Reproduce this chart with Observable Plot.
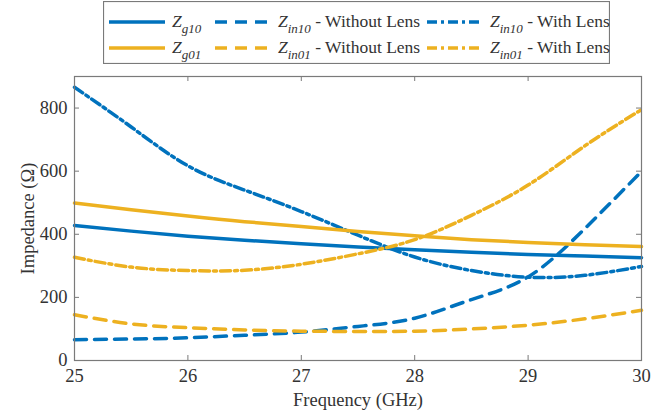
<!DOCTYPE html>
<html>
<head>
<meta charset="utf-8">
<script src="https://cdn.jsdelivr.net/npm/d3@7"></script>
<script src="https://cdn.jsdelivr.net/npm/@observablehq/plot@0.6"></script>
<style>
  html, body { margin: 0; padding: 0; background: #fff; }
  #wrap { position: relative; width: 670px; height: 416px; }
  #wrap, #wrap svg, #wrap text { font-family: "Liberation Serif", "Times New Roman", Tinos, "DejaVu Serif", serif !important; }
  #legend { position: absolute; left: 103px; top: 1px; }
</style>
</head>
<body>
<div id="wrap"></div>
<script>
// Frequency sweep (GHz)
const freq = [25, 25.5, 26, 26.5, 27, 27.5, 28, 28.5, 29, 29.5, 30];

// Impedance series (Ω)
const zg10 = [428, 410, 394, 381, 370, 360, 351, 343, 336, 331, 326];
const zg01 = [499, 478, 458, 440, 425, 409, 395, 383, 374, 367, 361];
const zin10NoLens = [66, 68, 72, 80, 90, 108, 134, 193, 265, 418, 599];
const zin01NoLens = [145, 116, 104, 97, 93, 92, 93, 100, 112, 132, 159];
const zin10Lens = [866, 740, 617, 540, 472, 397, 328, 285, 264, 270, 298];
const zin01Lens = [327, 296, 285, 286, 305, 338, 383, 460, 556, 680, 795];

// Axis ticks
const xTicks = [25, 26, 27, 28, 29, 30];
const yTicks = [0, 200, 400, 600, 800];

const blue = "#0072BD";
const yellow = "#EDB120";
const dashed = "12,8";
const dashDot = "10,4,3,4";
const serif = "'Liberation Serif', 'Times New Roman', Tinos, 'DejaVu Serif', serif";

const series = [
  {name: "g10", values: zg10, color: blue, dash: null, text: ""},
  {name: "in10", values: zin10NoLens, color: blue, dash: dashed, text: " - Without Lens"},
  {name: "in10", values: zin10Lens, color: blue, dash: dashDot, text: " - With Lens"},
  {name: "g01", values: zg01, color: yellow, dash: null, text: ""},
  {name: "in01", values: zin01NoLens, color: yellow, dash: dashed, text: " - Without Lens"},
  {name: "in01", values: zin01Lens, color: yellow, dash: dashDot, text: " - With Lens"}
];

const W = 670, H = 416;
const mL = 74, mR = 29, mT = 76, mB = 56;
const innerW = W - mL - mR, innerH = H - mT - mB;
const tickLen = 5;
const gray = "#7a7a7a";
const ink = "#333";

const lineMarks = series.map(s =>
  Plot.line(freq.map((f, i) => ({f, v: s.values[i]})), {
    x: "f", y: "v", stroke: s.color, strokeWidth: 3.5,
    strokeDasharray: s.dash, curve: "natural"
  })
);

const chart = Plot.plot({
  width: W, height: H,
  marginLeft: mL, marginRight: mR, marginTop: mT, marginBottom: mB,
  style: {fontFamily: serif, fontSize: "18.5px", color: ink, background: "#fff"},
  x: {domain: [25, 30]},
  y: {domain: [0, 900]},
  marks: [
    ...lineMarks,
    // inward ticks on all four sides
    Plot.tickX(xTicks, {x: d => d, insetTop: innerH - tickLen, stroke: gray}),
    Plot.tickX(xTicks, {x: d => d, insetBottom: innerH - tickLen, stroke: gray}),
    Plot.tickY(yTicks, {y: d => d, insetRight: innerW - tickLen, stroke: gray}),
    Plot.tickY(yTicks, {y: d => d, insetLeft: innerW - tickLen, stroke: gray}),
    Plot.frame({stroke: gray, strokeWidth: 1.2}),
    Plot.axisX(xTicks, {tickSize: 0, tickPadding: 8, tickFormat: d3.format("d"), label: "Frequency (GHz)", labelAnchor: "center", labelArrow: "none", labelOffset: 45, fill: ink}),
    Plot.axisY(yTicks, {tickSize: 0, tickPadding: 7, tickFormat: d3.format("d"), label: "Impedance (Ω)", labelAnchor: "center", labelArrow: "none", labelOffset: 54, fill: ink})
  ]
});

const wrap = document.getElementById("wrap");
wrap.appendChild(chart);

// Legend: two rows, three columns
const legendW = 506, legendH = 62;
const colSample = [6, 112, 324];
const sampleLen = 56;
const rowY = [21, 47];
const svg = d3.select(wrap).append("svg")
  .attr("id", "legend")
  .attr("width", legendW + 1).attr("height", legendH + 1);
svg.append("rect")
  .attr("x", 0.5).attr("y", 0.5).attr("width", legendW).attr("height", legendH)
  .attr("fill", "#fff").attr("stroke", gray).attr("stroke-width", 1.2);

series.forEach((s, i) => {
  const row = i < 3 ? 0 : 1;
  const col = i % 3;
  const g = svg.append("g").attr("transform", `translate(${colSample[col]},${rowY[row]})`);
  g.append("line")
    .attr("x1", 0).attr("x2", sampleLen).attr("y1", 0).attr("y2", 0)
    .attr("stroke", s.color).attr("stroke-width", 3.5)
    .attr("stroke-dasharray", s.dash);
  const t = g.append("text")
    .attr("x", sampleLen + 7).attr("y", 5)
    .style("font-family", serif)
    .attr("font-size", 17.5).attr("fill", ink);
  t.append("tspan").attr("font-style", "italic").text("Z");
  t.append("tspan").attr("font-style", "italic").attr("font-size", 13).attr("dy", 6).text(s.name);
  if (s.text) t.append("tspan").attr("dy", -6).text(s.text);
});
</script>
</body>
</html>
